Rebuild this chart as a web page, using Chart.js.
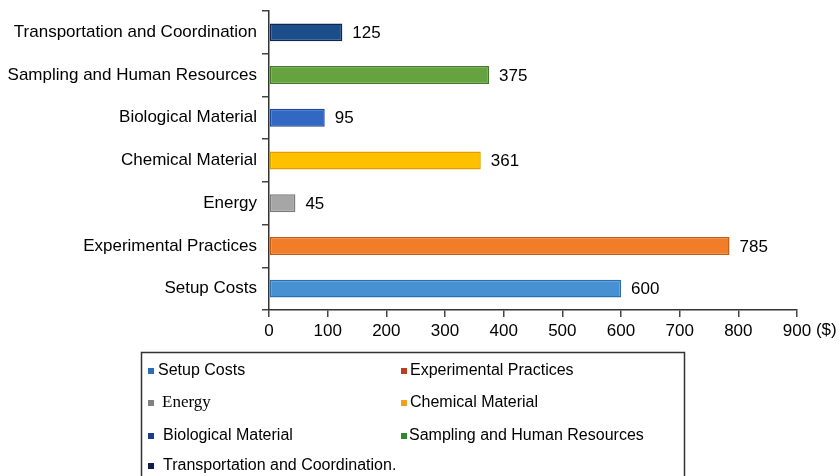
<!DOCTYPE html>
<html>
<head>
<meta charset="utf-8">
<script src="https://cdn.jsdelivr.net/npm/chart.js@4/dist/chart.umd.min.js"></script>
<style>
html,body{margin:0;padding:0;background:#fff;}
#wrap{width:839px;height:476px;position:relative;}
</style>
</head>
<body>
<div id="wrap"><canvas id="c" width="839" height="476"></canvas></div>
<script>
const categories = ["Setup Costs","Experimental Practices","Energy","Chemical Material","Biological Material","Sampling and Human Resources","Transportation and Coordination"];
const costs = [600, 785, 45, 361, 95, 375, 125];
const xTickLabels = ["0","100","200","300","400","500","600","700","800","900"];
const unitLabel = "($)";
const legendLabels = ["Setup Costs","Experimental Practices","Energy","Chemical Material","Biological Material","Sampling and Human Resources","Transportation and Coordination."];

const fillColors = ["#4790d2","#f27d28","#a6a6a6","#ffc000","#3168c4","#65a340","#1b4d88"];
const borderColors = ["#2d6fae","#c55a11","#7b7b7b","#d9a100","#1d4a98","#437a27","#0d2750"];
const legendMarkers = ["#2a6db8","#b8401c","#808080","#f0a020","#1c3d8c","#2b8a2b","#0e1e44"];

const FONT = "'Liberation Sans', Arial, sans-serif";

const valueLabels = {
  id: 'valueLabels',
  afterDatasetsDraw(chart) {
    const ctx = chart.ctx;
    const meta = chart.getDatasetMeta(0);
    ctx.save();
    ctx.font = "17px " + FONT;
    ctx.fillStyle = "#000";
    ctx.textBaseline = "middle";
    ctx.textAlign = "left";
    meta.data.forEach((bar, i) => {
      ctx.fillText(String(chart.data.datasets[0].data[i]), bar.x + 10, bar.y + 1);
    });
    ctx.restore();
  }
};

const unitPlugin = {
  id: 'unitPlugin',
  afterDraw(chart) {
    const ctx = chart.ctx;
    const xs = chart.scales.x;
    const last = xs.ticks.length - 1;
    const px = xs.getPixelForTick(last);
    ctx.save();
    ctx.font = "17px " + FONT;
    const w = ctx.measureText(xTickLabels[last]).width;
    ctx.fillStyle = "#000";
    ctx.textBaseline = "middle";
    ctx.textAlign = "left";
    ctx.fillText(" " + unitLabel, px + w / 2, 330);
    ctx.restore();
  }
};

const boxLegend = {
  id: 'boxLegend',
  afterDraw(chart) {
    const ctx = chart.ctx;
    ctx.save();
    ctx.strokeStyle = "#333";
    ctx.lineWidth = 1.5;
    ctx.strokeRect(141.5, 352.5, 543, 140);
    const colX = [148, 401];
    const textX = [[158, 410],[162, 410],[163, 409],[163, 409]];
    const rowY = [371, 403, 436, 466];
    legendLabels.forEach((lab, i) => {
      const r = Math.floor(i / 2), c = i % 2;
      const y = rowY[r];
      ctx.fillStyle = legendMarkers[i];
      ctx.fillRect(colX[c], y - 3, 6, 6);
      ctx.fillStyle = "#000";
      ctx.textBaseline = "middle";
      ctx.textAlign = "left";
      if (lab === "Energy") {
        ctx.font = "17px 'Liberation Serif', 'Times New Roman', serif";
      } else {
        ctx.font = "16px " + FONT;
      }
      ctx.fillText(lab, textX[r][c], y);
    });
    ctx.restore();
  }
};

new Chart(document.getElementById('c'), {
  type: 'bar',
  data: {
    labels: categories,
    datasets: [{
      data: costs,
      backgroundColor: fillColors,
      borderColor: borderColors,
      borderWidth: 1.5,
      borderSkipped: false,
      barPercentage: 0.84,
      categoryPercentage: 0.5
    }]
  },
  options: {
    indexAxis: 'y',
    responsive: false,
    animation: false,
    layout: { padding: { top: 11, right: 42, bottom: 136, left: 0 } },
    plugins: { legend: { display: false }, tooltip: { enabled: false } },
    scales: {
      x: {
        min: 0, max: 900,
        ticks: {
          stepSize: 100,
          color: "#000",
          font: { family: FONT, size: 17 },
          padding: 4,
          maxRotation: 0,
          callback: (v, i) => xTickLabels[i]
        },
        grid: { drawOnChartArea: false, drawTicks: true, tickLength: 7, color: "#444", lineWidth: 1.5 },
        border: { color: "#333", width: 1.5 },
        afterFit(s) { s.height = 30; }
      },
      y: {
        reverse: true,
        ticks: {
          color: "#000",
          font: { family: FONT, size: 17 },
          padding: 5
        },
        grid: { offset: true, drawOnChartArea: false, drawTicks: true, tickLength: 7, color: "#444", lineWidth: 1.5 },
        border: { color: "#333", width: 1.5 },
        afterFit(s) { s.width = 269; s.paddingTop = 0; s.paddingBottom = 0; }
      }
    }
  },
  plugins: [valueLabels, unitPlugin, boxLegend]
});
</script>
</body>
</html>
